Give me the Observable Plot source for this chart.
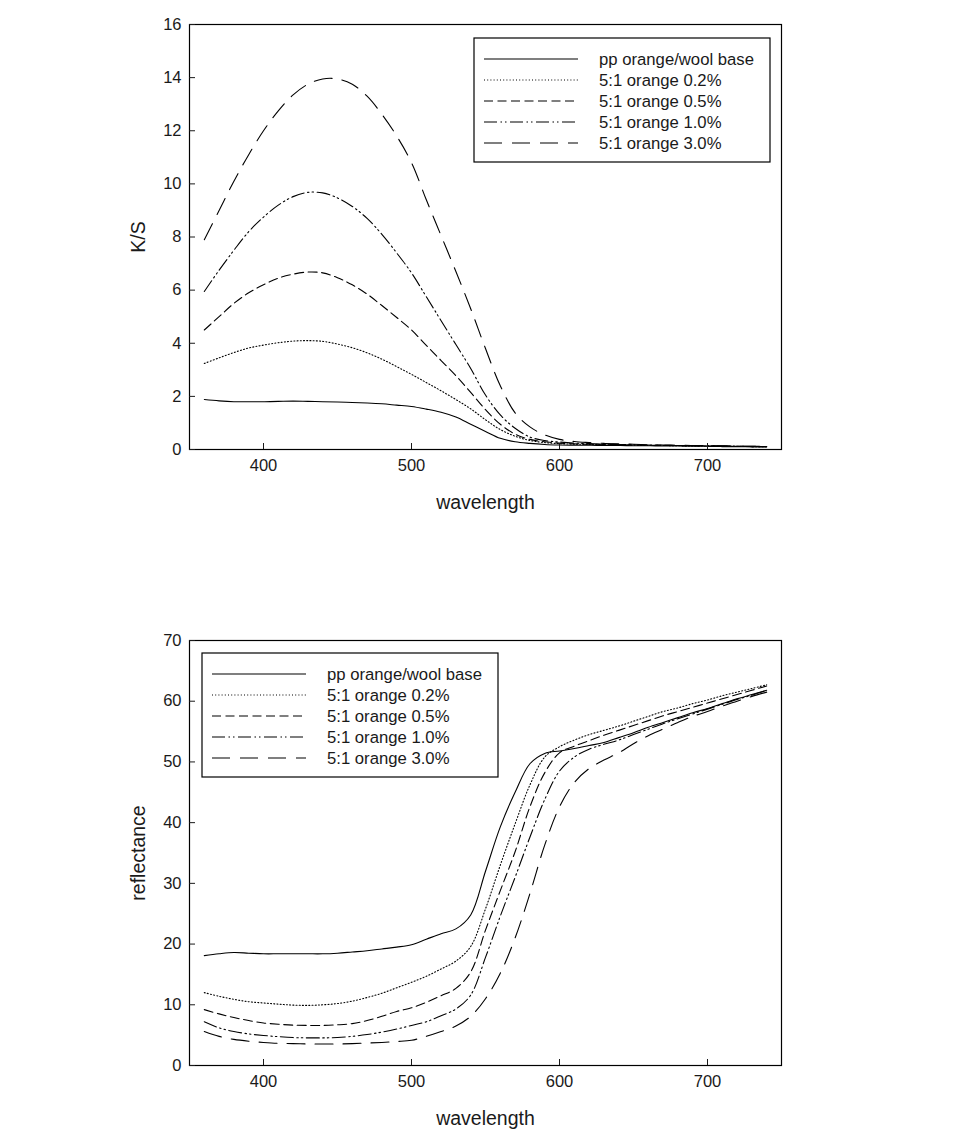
<!DOCTYPE html>
<html>
<head>
<meta charset="utf-8">
<script src="https://cdn.jsdelivr.net/npm/d3@7"></script>
<script src="https://cdn.jsdelivr.net/npm/@observablehq/plot@0.6"></script>
<style>
  html, body { margin: 0; padding: 0; background: #fff; }
  #wrap svg { display: block; }
</style>
</head>
<body>
<div id="wrap"></div>
<script>
// ---- data ----
const wavelengths = [360,370,380,390,400,410,420,430,440,450,460,470,480,490,500,510,520,530,540,550,560,570,580,590,600,610,620,630,640,650,660,670,680,690,700,710,720,730,740];

const seriesNames = ["pp orange/wool base", "5:1 orange 0.2%", "5:1 orange 0.5%", "5:1 orange 1.0%", "5:1 orange 3.0%"];

// K/S values
const ksBase = [1.88,1.83,1.80,1.80,1.80,1.81,1.82,1.81,1.80,1.79,1.77,1.75,1.72,1.67,1.62,1.52,1.40,1.22,0.95,0.68,0.42,0.29,0.23,0.19,0.17,0.16,0.16,0.15,0.15,0.14,0.14,0.13,0.13,0.12,0.12,0.11,0.11,0.10,0.10];
const ks02 = [3.24,3.45,3.65,3.82,3.93,4.02,4.08,4.10,4.07,3.97,3.83,3.64,3.40,3.12,2.83,2.52,2.21,1.88,1.53,1.12,0.75,0.50,0.34,0.26,0.22,0.20,0.19,0.18,0.17,0.16,0.15,0.15,0.14,0.13,0.13,0.12,0.12,0.11,0.11];
const ks05 = [4.50,5.00,5.50,5.90,6.20,6.45,6.60,6.68,6.65,6.47,6.20,5.85,5.42,4.97,4.50,3.92,3.35,2.78,2.15,1.50,0.95,0.58,0.38,0.29,0.24,0.21,0.20,0.19,0.18,0.17,0.16,0.15,0.15,0.14,0.13,0.13,0.12,0.11,0.11];
const ks10 = [5.95,6.75,7.50,8.20,8.75,9.20,9.52,9.68,9.66,9.47,9.15,8.70,8.10,7.40,6.65,5.75,4.85,3.95,3.05,2.05,1.30,0.80,0.47,0.34,0.28,0.24,0.22,0.20,0.19,0.18,0.17,0.16,0.15,0.15,0.14,0.13,0.12,0.12,0.11];
const ks30 = [7.90,9.00,10.10,11.10,12.00,12.75,13.35,13.75,13.95,13.95,13.75,13.30,12.62,11.80,10.80,9.40,8.05,6.70,5.30,3.80,2.40,1.38,0.85,0.55,0.38,0.30,0.26,0.23,0.21,0.20,0.18,0.17,0.16,0.15,0.15,0.14,0.13,0.12,0.12];

// reflectance values
const rBase = [18.1,18.4,18.6,18.5,18.4,18.4,18.4,18.4,18.4,18.5,18.7,18.9,19.2,19.5,19.9,20.8,21.7,22.5,24.8,32.0,39.3,45.0,49.7,51.4,51.8,52.2,52.7,53.2,54.0,54.8,55.7,56.5,57.3,58.1,58.8,59.6,60.4,61.1,61.8];
const r02 = [12.0,11.4,10.9,10.5,10.3,10.1,9.95,9.9,10.0,10.2,10.6,11.2,11.9,12.8,13.7,14.7,15.9,17.2,19.6,25.8,33.0,39.8,46.2,50.8,52.5,53.6,54.5,55.2,55.9,56.7,57.5,58.3,58.9,59.6,60.2,60.9,61.5,62.1,62.7];
const r05 = [9.2,8.5,7.9,7.4,7.0,6.8,6.65,6.6,6.6,6.7,6.9,7.4,8.1,8.9,9.5,10.4,11.5,12.7,15.4,22.3,28.8,35.2,42.6,48.2,51.5,52.6,53.5,54.4,55.2,56.0,56.8,57.6,58.3,59.0,59.7,60.4,61.1,61.8,62.5];
const r10 = [7.2,6.2,5.6,5.2,4.95,4.75,4.6,4.55,4.55,4.6,4.8,5.1,5.5,6.0,6.6,7.2,8.2,9.3,11.6,17.8,24.6,31.0,37.6,43.8,48.5,50.8,52.1,52.9,53.6,54.5,55.4,56.3,57.1,57.9,58.7,59.5,60.3,61.0,61.8];
const r30 = [5.6,4.8,4.3,4.0,3.8,3.65,3.6,3.55,3.55,3.55,3.6,3.7,3.8,3.95,4.15,4.8,5.6,6.5,8.1,11.0,15.2,21.0,28.3,36.3,42.6,46.6,48.9,50.3,51.5,53.0,54.3,55.4,56.5,57.5,58.3,59.2,60.0,60.8,61.5];

const xTicks = [400, 500, 600, 700];
const ksTicks = [0, 2, 4, 6, 8, 10, 12, 14, 16];
const rTicks = [0, 10, 20, 30, 40, 50, 60, 70];

// ---- styles ----
const dashes = [null, "1,2.2", "9,4.5", "13,3.5,1.5,3,1.5,3.5", "18,10"];
const FONT = "'Liberation Sans', Arial, Helvetica, sans-serif";
const INK = "#1a1a1a";

function buildRows(valueArrays) {
  return valueArrays.map((vals, s) => vals.map((v, i) => ({series: seriesNames[s], w: wavelengths[i], v})));
}

function makeChart({rows, yDomain, yTicks, yLabel, height, marginTop, marginBottom, legendX, legendY}) {
  const lines = rows.map((r, s) => Plot.line(r, {
    x: "w", y: "v", stroke: "#000", strokeWidth: 1.1,
    strokeDasharray: dashes[s] ?? undefined, curve: "catmull-rom"
  }));
  const svg = Plot.plot({
    width: 969, height,
    marginLeft: 189, marginRight: 188, marginTop, marginBottom,
    style: {fontFamily: FONT, fontSize: "16px", color: INK, background: "#fff", overflow: "visible"},
    x: {domain: [350, 750]},
    y: {domain: yDomain},
    marks: [
      ...lines,
      Plot.frame({stroke: "#000", strokeWidth: 1.2}),
      Plot.axisX({anchor: "bottom", ticks: xTicks, tickSize: -6, tickPadding: 16, label: null, fill: INK, fontSize: 16.5}),
      Plot.axisY({anchor: "left", ticks: yTicks, tickSize: -6, tickPadding: 14, label: null, fill: INK, fontSize: 16.5}),
      Plot.text(["wavelength"], {text: d => d, frameAnchor: "bottom", lineAnchor: "middle", textAnchor: "middle", dy: 53, fontSize: 19.5, fill: INK}),
      Plot.text([yLabel], {text: d => d, frameAnchor: "left", lineAnchor: "middle", textAnchor: "middle", dx: -51, rotate: -90, fontSize: 19.5, fill: INK})
    ]
  });
  // legend box
  const g = d3.select(svg).append("g").attr("font-family", FONT).attr("font-size", 16.7).attr("fill", INK)
    .attr("text-anchor", "start");
  g.append("rect").attr("x", legendX).attr("y", legendY).attr("width", 296).attr("height", 124)
    .attr("fill", "#fff").attr("stroke", "#000").attr("stroke-width", 1.2);
  seriesNames.forEach((name, s) => {
    const yy = legendY + 21 + s * 21;
    g.append("line").attr("x1", legendX + 10).attr("x2", legendX + 104).attr("y1", yy).attr("y2", yy)
      .attr("stroke", "#000").attr("stroke-width", 1.1)
      .attr("stroke-dasharray", dashes[s] ?? null);
    g.append("text").attr("x", legendX + 125).attr("y", yy).attr("dy", "0.35em")
      .attr("text-anchor", "start").text(name);
  });
  return svg;
}

const wrap = document.getElementById("wrap");
wrap.appendChild(makeChart({
  rows: buildRows([ksBase, ks02, ks05, ks10, ks30]),
  yDomain: [0, 16], yTicks: ksTicks, yLabel: "K/S",
  height: 575, marginTop: 24, marginBottom: 126,
  legendX: 474, legendY: 38
}));
wrap.appendChild(makeChart({
  rows: buildRows([rBase, r02, r05, r10, r30]),
  yDomain: [0, 70], yTicks: rTicks, yLabel: "reflectance",
  height: 573, marginTop: 65, marginBottom: 83,
  legendX: 202, legendY: 78
}));
</script>
</body>
</html>
